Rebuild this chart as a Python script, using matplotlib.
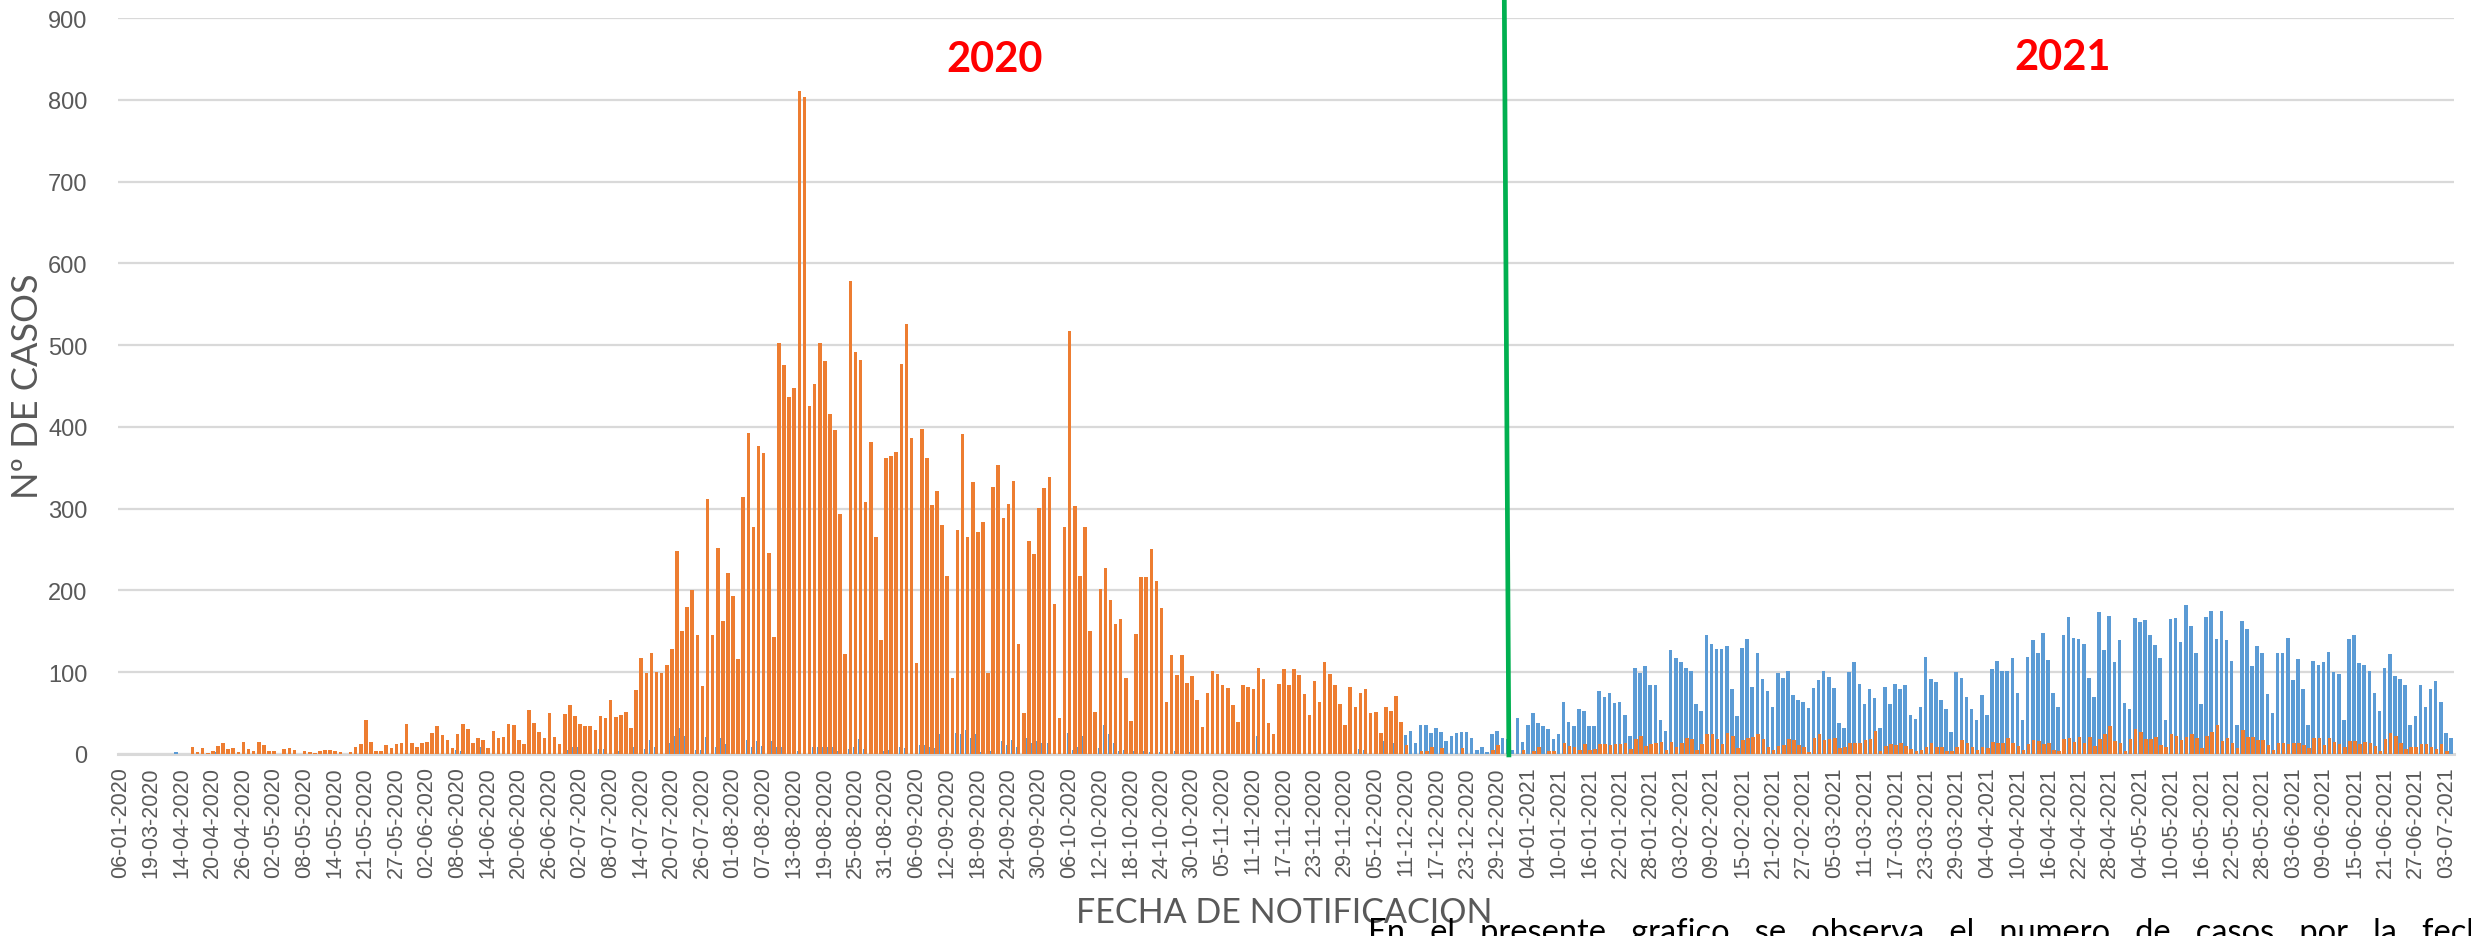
import numpy as np
import matplotlib
matplotlib.use("Agg")
import matplotlib.pyplot as plt

# ---------------- data ----------------
fechas_etiquetas = [
    "06-01-2020", "19-03-2020", "14-04-2020", "20-04-2020", "26-04-2020", "02-05-2020",
    "08-05-2020", "14-05-2020", "21-05-2020", "27-05-2020", "02-06-2020", "08-06-2020",
    "14-06-2020", "20-06-2020", "26-06-2020", "02-07-2020", "08-07-2020", "14-07-2020",
    "20-07-2020", "26-07-2020", "01-08-2020", "07-08-2020", "13-08-2020", "19-08-2020",
    "25-08-2020", "31-08-2020", "06-09-2020", "12-09-2020", "18-09-2020", "24-09-2020",
    "30-09-2020", "06-10-2020", "12-10-2020", "18-10-2020", "24-10-2020", "30-10-2020",
    "05-11-2020", "11-11-2020", "17-11-2020", "23-11-2020", "29-11-2020", "05-12-2020",
    "11-12-2020", "17-12-2020", "23-12-2020", "29-12-2020", "04-01-2021", "10-01-2021",
    "16-01-2021", "22-01-2021", "28-01-2021", "03-02-2021", "09-02-2021", "15-02-2021",
    "21-02-2021", "27-02-2021", "05-03-2021", "11-03-2021", "17-03-2021", "23-03-2021",
    "29-03-2021", "04-04-2021", "10-04-2021", "16-04-2021", "22-04-2021", "28-04-2021",
    "04-05-2021", "10-05-2021", "16-05-2021", "22-05-2021", "28-05-2021", "03-06-2021",
    "09-06-2021", "15-06-2021", "21-06-2021", "27-06-2021", "03-07-2021",
]
paso_etiquetas = 6

# orange series (one value per notification date / category)
casos_naranja = [
    0, 0, 0, 0, 0, 0, 0, 0, 0, 0,
    0, 0, 0, 0, 8, 3, 7, 1, 4, 10,
    13, 6, 7, 3, 15, 6, 4, 15, 11, 4,
    4, 0, 6, 7, 5, 0, 4, 3, 1, 4,
    5, 5, 4, 3, 0, 3, 9, 12, 42, 15,
    4, 4, 11, 7, 12, 14, 37, 14, 9, 14,
    15, 26, 34, 23, 17, 7, 24, 37, 30, 14,
    20, 17, 7, 28, 19, 21, 37, 36, 17, 12,
    54, 38, 27, 20, 50, 21, 12, 49, 60, 46,
    37, 34, 34, 29, 46, 44, 66, 45, 48, 51,
    32, 78, 118, 99, 124, 100, 99, 109, 129, 248,
    150, 180, 200, 146, 83, 312, 146, 252, 163, 221,
    193, 116, 314, 392, 277, 377, 368, 246, 143, 503,
    476, 437, 447, 811, 804, 425, 452, 502, 481, 416,
    396, 293, 122, 579, 491, 482, 308, 381, 265, 140,
    362, 364, 369, 477, 526, 386, 111, 397, 362, 304,
    321, 280, 218, 93, 274, 391, 265, 332, 272, 284,
    99, 326, 354, 289, 306, 334, 135, 50, 261, 244,
    301, 325, 339, 184, 44, 277, 517, 303, 218, 278,
    150, 51, 202, 228, 188, 159, 165, 93, 40, 147,
    217, 217, 251, 212, 179, 64, 121, 97, 121, 87,
    95, 66, 33, 75, 102, 98, 84, 81, 60, 39,
    84, 82, 80, 105, 92, 38, 24, 86, 104, 84,
    104, 96, 73, 48, 89, 63, 113, 98, 84, 61,
    36, 82, 57, 74, 80, 50, 51, 26, 58, 52,
    71, 39, 11, 0, 0, 4, 4, 8, 0, 7,
    0, 0, 0, 7, 0, 0, 0, 0, 0, 5,
    11, 0, 0, 0, 0, 5, 0, 4, 9, 0,
    4, 4, 0, 13, 10, 8, 5, 12, 5, 6,
    12, 12, 11, 12, 12, 14, 6, 18, 22, 10,
    12, 14, 15, 5, 15, 8, 13, 20, 18, 5,
    12, 24, 25, 18, 12, 26, 22, 7, 17, 20,
    21, 24, 18, 8, 5, 10, 11, 18, 17, 11,
    8, 2, 20, 24, 17, 18, 20, 7, 8, 14,
    14, 14, 17, 18, 28, 4, 10, 12, 11, 14,
    10, 6, 4, 5, 9, 14, 9, 8, 4, 4,
    8, 17, 14, 8, 5, 8, 7, 15, 14, 14,
    20, 13, 10, 5, 12, 17, 16, 12, 13, 5,
    4, 18, 19, 15, 21, 14, 21, 10, 18, 25,
    34, 16, 14, 4, 18, 30, 27, 18, 18, 21,
    11, 9, 24, 22, 17, 21, 24, 20, 7, 22,
    27, 36, 16, 19, 14, 7, 29, 21, 21, 17,
    17, 11, 5, 14, 14, 12, 13, 14, 11, 7,
    20, 19, 11, 20, 15, 12, 8, 16, 16, 12,
    15, 13, 10, 4, 18, 26, 22, 13, 6, 9,
    8, 12, 12, 8, 6, 12, 4, 0,
]

# blue series
casos_azul = [
    0, 0, 0, 0, 0, 0, 0, 0, 0, 0,
    0, 2, 0, 0, 0, 0, 0, 0, 0, 2,
    0, 0, 0, 0, 0, 0, 0, 0, 0, 0,
    0, 0, 0, 0, 0, 0, 0, 0, 0, 0,
    0, 0, 0, 0, 0, 0, 0, 0, 0, 0,
    0, 0, 0, 0, 0, 0, 0, 0, 0, 0,
    0, 0, 0, 0, 0, 0, 5, 4, 0, 0,
    0, 8, 0, 0, 0, 0, 0, 0, 0, 0,
    0, 0, 0, 0, 0, 0, 0, 0, 5, 8,
    9, 0, 0, 0, 6, 6, 0, 0, 4, 0,
    0, 9, 16, 6, 17, 9, 0, 0, 13, 22,
    32, 22, 26, 5, 5, 21, 0, 8, 20, 12,
    0, 0, 0, 17, 8, 16, 10, 0, 16, 9,
    9, 0, 5, 4, 0, 0, 8, 9, 9, 8,
    8, 4, 0, 6, 9, 18, 6, 0, 0, 0,
    4, 5, 8, 8, 7, 0, 0, 11, 11, 9,
    7, 24, 0, 0, 26, 24, 29, 20, 24, 3,
    0, 4, 17, 16, 11, 17, 8, 0, 20, 13,
    16, 13, 13, 0, 0, 0, 26, 5, 8, 22,
    0, 0, 7, 35, 24, 13, 4, 5, 0, 4,
    0, 4, 3, 0, 2, 0, 0, 4, 0, 0,
    3, 0, 0, 0, 0, 0, 0, 0, 0, 0,
    0, 0, 0, 22, 0, 0, 0, 0, 0, 0,
    0, 0, 0, 0, 0, 0, 0, 0, 0, 0,
    0, 0, 0, 6, 5, 0, 0, 0, 16, 0,
    14, 0, 23, 28, 13, 35, 36, 26, 32, 27,
    16, 22, 26, 27, 27, 20, 5, 8, 2, 24,
    28, 20, 18, 5, 44, 15, 35, 50, 38, 34,
    31, 18, 24, 64, 39, 34, 55, 52, 34, 34,
    77, 70, 75, 62, 64, 48, 22, 105, 99, 108,
    84, 84, 41, 28, 127, 117, 112, 105, 101, 61,
    52, 146, 134, 129, 129, 132, 79, 47, 130, 141,
    82, 124, 92, 77, 57, 99, 93, 101, 72, 66,
    64, 56, 81, 90, 102, 94, 81, 38, 32, 100,
    112, 86, 61, 79, 68, 32, 82, 61, 86, 80,
    84, 48, 43, 57, 119, 92, 88, 66, 55, 27,
    100, 93, 70, 55, 42, 72, 48, 104, 114, 102,
    101, 118, 75, 41, 119, 139, 124, 148, 115, 75,
    57, 146, 168, 142, 141, 135, 93, 70, 174, 127,
    169, 112, 139, 62, 55, 166, 161, 164, 145, 133,
    117, 41, 165, 166, 137, 182, 157, 123, 61, 167,
    175, 141, 175, 140, 114, 36, 163, 153, 107, 132,
    123, 73, 50, 123, 123, 142, 91, 116, 79, 36,
    114, 109, 113, 125, 100, 98, 41, 141, 146, 111,
    109, 102, 74, 53, 105, 122, 95, 92, 84, 36,
    47, 84, 57, 79, 89, 64, 26, 20,
]

n = min(len(casos_naranja), len(casos_azul))
casos_naranja = casos_naranja[:n]
casos_azul = casos_azul[:n]

# ---------------- figure ----------------
W, H, DPI = 2471, 937, 100
fig = plt.figure(figsize=(W / DPI, H / DPI), dpi=DPI)
ax = fig.add_axes([118 / W, 1 - 755 / H, (2454 - 118) / W, (755 - 19) / H])

x = np.arange(n)
ancho = 0.70
ax.bar(x - 0.09, casos_azul, width=ancho, color="#5B9BD5", linewidth=0, zorder=2)
ax.bar(x + 0.09, casos_naranja, width=ancho, color="#ED7D31", linewidth=0, zorder=3)

ax.set_xlim(-0.5, n - 0.5)
ax.set_ylim(0, 900)
ax.set_yticks(np.arange(0, 901, 100))
ax.grid(axis="y", color="#D9D9D9", linewidth=1.6, zorder=0)
ax.set_axisbelow(True)
for s in ["top", "right", "left"]:
    ax.spines[s].set_visible(False)
ax.spines["bottom"].set_color("#D9D9D9")
ax.spines["bottom"].set_linewidth(2.2)
ax.spines["bottom"].set_zorder(1)

tick_pos = np.arange(0, n, paso_etiquetas)[:len(fechas_etiquetas)]
ax.set_xticks(tick_pos)
ax.set_xticklabels(fechas_etiquetas, rotation=90, fontsize=15.5,
                   family=["Liberation Sans", "DejaVu Sans"], color="#595959")
ax.tick_params(axis="x", length=0, pad=9)
ax.tick_params(axis="y", length=0, pad=22, labelsize=17, labelcolor="#595959")
for lab in ax.get_yticklabels():
    lab.set_family(["Liberation Sans Narrow", "Liberation Sans", "DejaVu Sans"])

# year divider and year labels
ax.plot([271.3, 272.2], [925, -4], color="#00B050", linewidth=3.4,
        clip_on=False, zorder=6, solid_capstyle="butt")
ax.text(171.4, 850, "2020", color="#FF0000", fontsize=30, fontweight="bold",
        ha="center", va="center", family=["Lato", "DejaVu Sans"])
ax.text(380.8, 852, "2021", color="#FF0000", fontsize=30, fontweight="bold",
        ha="center", va="center", family=["Lato", "DejaVu Sans"])

# axis titles
fig.text(28 / W, 1 - 386 / H, "Nº DE CASOS", rotation=90, ha="center", va="center",
         fontsize=26, color="#595959", family=["Lato", "DejaVu Sans"])
fig.text(1284 / W, 1 - 913 / H, "FECHA DE NOTIFICACION", ha="center", va="center",
         fontsize=24.5, color="#595959", family=["Lato", "DejaVu Sans"])

# cut-off paragraph at the bottom
fig.text(1368 / W, 1 - 918 / H,
         "En   el   presente   grafico   se   observa   el   numero   de   casos   por   la   fecha   de",
         ha="left", va="top", fontsize=23.5, color="#000000", family=["Lato", "DejaVu Sans"])

fig.savefig("out.png", dpi=DPI)
